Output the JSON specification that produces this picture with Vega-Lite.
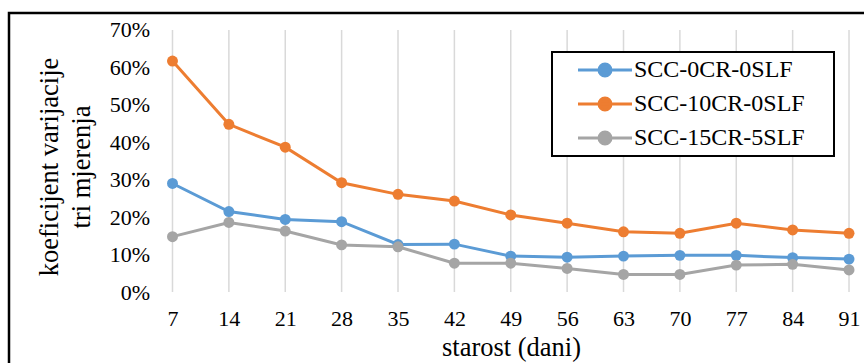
{
  "$schema": "https://vega.github.io/schema/vega-lite/v6.json",
  "width": 862,
  "height": 360,
  "autosize": {"type": "none"},
  "padding": {"left": 9, "top": 13, "right": 0, "bottom": 0},
  "background": "#ffffff",
  "config": {
    "font": "Liberation Serif",
    "view": {"stroke": "#000000", "strokeWidth": 2.5, "fill": "#ffffff"},
    "axis": {"grid": false, "domain": false, "ticks": false, "labelColor": "#000000", "titleColor": "#000000", "labelFont": "Liberation Serif", "titleFont": "Liberation Serif", "titleFontWeight": "normal"}
  },
  "datasets": {
    "main": [
      {"day": 7, "series": "SCC-0CR-0SLF", "cv": 0.290},
      {"day": 14, "series": "SCC-0CR-0SLF", "cv": 0.215},
      {"day": 21, "series": "SCC-0CR-0SLF", "cv": 0.194},
      {"day": 28, "series": "SCC-0CR-0SLF", "cv": 0.188},
      {"day": 35, "series": "SCC-0CR-0SLF", "cv": 0.127},
      {"day": 42, "series": "SCC-0CR-0SLF", "cv": 0.128},
      {"day": 49, "series": "SCC-0CR-0SLF", "cv": 0.096},
      {"day": 56, "series": "SCC-0CR-0SLF", "cv": 0.093},
      {"day": 63, "series": "SCC-0CR-0SLF", "cv": 0.096},
      {"day": 70, "series": "SCC-0CR-0SLF", "cv": 0.098},
      {"day": 77, "series": "SCC-0CR-0SLF", "cv": 0.098},
      {"day": 84, "series": "SCC-0CR-0SLF", "cv": 0.092},
      {"day": 91, "series": "SCC-0CR-0SLF", "cv": 0.088},
      {"day": 7, "series": "SCC-10CR-0SLF", "cv": 0.617},
      {"day": 14, "series": "SCC-10CR-0SLF", "cv": 0.448},
      {"day": 21, "series": "SCC-10CR-0SLF", "cv": 0.387},
      {"day": 28, "series": "SCC-10CR-0SLF", "cv": 0.292},
      {"day": 35, "series": "SCC-10CR-0SLF", "cv": 0.261},
      {"day": 42, "series": "SCC-10CR-0SLF", "cv": 0.243},
      {"day": 49, "series": "SCC-10CR-0SLF", "cv": 0.206},
      {"day": 56, "series": "SCC-10CR-0SLF", "cv": 0.184},
      {"day": 63, "series": "SCC-10CR-0SLF", "cv": 0.161},
      {"day": 70, "series": "SCC-10CR-0SLF", "cv": 0.157},
      {"day": 77, "series": "SCC-10CR-0SLF", "cv": 0.184},
      {"day": 84, "series": "SCC-10CR-0SLF", "cv": 0.166},
      {"day": 91, "series": "SCC-10CR-0SLF", "cv": 0.157},
      {"day": 7, "series": "SCC-15CR-5SLF", "cv": 0.148},
      {"day": 14, "series": "SCC-15CR-5SLF", "cv": 0.186},
      {"day": 21, "series": "SCC-15CR-5SLF", "cv": 0.163},
      {"day": 28, "series": "SCC-15CR-5SLF", "cv": 0.126},
      {"day": 35, "series": "SCC-15CR-5SLF", "cv": 0.121},
      {"day": 42, "series": "SCC-15CR-5SLF", "cv": 0.077},
      {"day": 49, "series": "SCC-15CR-5SLF", "cv": 0.077},
      {"day": 56, "series": "SCC-15CR-5SLF", "cv": 0.063},
      {"day": 63, "series": "SCC-15CR-5SLF", "cv": 0.047},
      {"day": 70, "series": "SCC-15CR-5SLF", "cv": 0.047},
      {"day": 77, "series": "SCC-15CR-5SLF", "cv": 0.072},
      {"day": 84, "series": "SCC-15CR-5SLF", "cv": 0.074},
      {"day": 91, "series": "SCC-15CR-5SLF", "cv": 0.059}
    ],
    "ygrid": [
      {"cv": 0}, {"cv": 0.1}, {"cv": 0.2}, {"cv": 0.3}, {"cv": 0.4}, {"cv": 0.5}, {"cv": 0.6}, {"cv": 0.7}
    ]
  },
  "data": {"name": "main"},
  "encoding": {
    "x": {
      "field": "day", "type": "quantitative",
      "scale": {"domain": [-13.3, 93.73], "nice": false, "zero": false},
      "axis": {
        "orient": "bottom", "offset": -81,
        "values": [7, 14, 21, 28, 35, 42, 49, 56, 63, 70, 77, 84, 91], "format": "d",
        "labelFontSize": 22, "labelPadding": 16, "labelOverlap": false, "labelFlush": false,
        "title": "starost (dani)", "titleFontSize": 26.5, "titlePadding": 5, "titleX": 502
      }
    },
    "y": {
      "field": "cv", "type": "quantitative",
      "scale": {"domain": [-0.2162, 0.7454], "nice": false, "zero": false},
      "axis": {
        "orient": "left", "offset": -163.5,
        "values": [0, 0.1, 0.2, 0.3, 0.4, 0.5, 0.6, 0.7], "format": ".0%",
        "labelFontSize": 22, "labelPadding": 23, "labelOverlap": false, "labelFlush": false,
        "title": ["koeficijent varijacije", "tri mjerenja"], "titleFontSize": 26.5, "titleLineHeight": 32,
        "titlePadding": 14, "titleY": 153.5
      }
    }
  },
  "layer": [
    {
      "data": {"name": "ygrid"},
      "mark": {"type": "rule", "strokeWidth": 1.5},
      "encoding": {
        "x": {"datum": 7, "type": "quantitative"},
        "x2": {"datum": 91},
        "color": {"condition": {"test": "datum.cv == 0", "value": "#bfbfbf"}, "value": "#d9d9d9"}
      }
    },
    {
      "transform": [{"filter": "datum.series == 'SCC-0CR-0SLF'"}],
      "mark": {"type": "rule", "strokeWidth": 1.5, "color": "#d9d9d9"},
      "encoding": {
        "y": {"datum": 0, "type": "quantitative"},
        "y2": {"datum": 0.7}
      }
    },
    {
      "mark": {"type": "line", "strokeWidth": 3},
      "encoding": {
        "color": {
          "field": "series", "type": "nominal",
          "scale": {"domain": ["SCC-0CR-0SLF", "SCC-10CR-0SLF", "SCC-15CR-5SLF"], "range": ["#5B9BD5", "#ED7D31", "#A5A5A5"]},
          "legend": {
            "orient": "none", "legendX": 543, "legendY": 39, "direction": "vertical",
            "strokeColor": "#000000", "fillColor": "#ffffff", "padding": 6,
            "symbolOffset": 35, "labelOffset": 17, "rowPadding": 10,
            "labelFontSize": 24, "labelColor": "#000000", "labelFont": "Liberation Serif", "labelLimit": 400,
            "symbolType": "M-4.5,0H4.5M-1,0A1,1,0,1,1,1,0A1,1,0,1,1,-1,0Z", "symbolSize": 144, "symbolStrokeWidth": 3,
            "title": " ", "titleOrient": "right", "titleFontSize": 1, "titlePadding": 23,
            "encode": {
              "legend": {"update": {"strokeWidth": {"value": 2}}},
              "symbols": {"update": {
                "fill": {"scale": "color", "field": "value"},
                "stroke": {"scale": "color", "field": "value"},
                "strokeWidth": {"value": 3},
                "opacity": {"value": 1}
              }}
            }
          }
        }
      }
    },
    {
      "mark": {"type": "point", "filled": true, "size": 120, "opacity": 1},
      "encoding": {
        "color": {"field": "series", "type": "nominal"}
      }
    }
  ]
}
